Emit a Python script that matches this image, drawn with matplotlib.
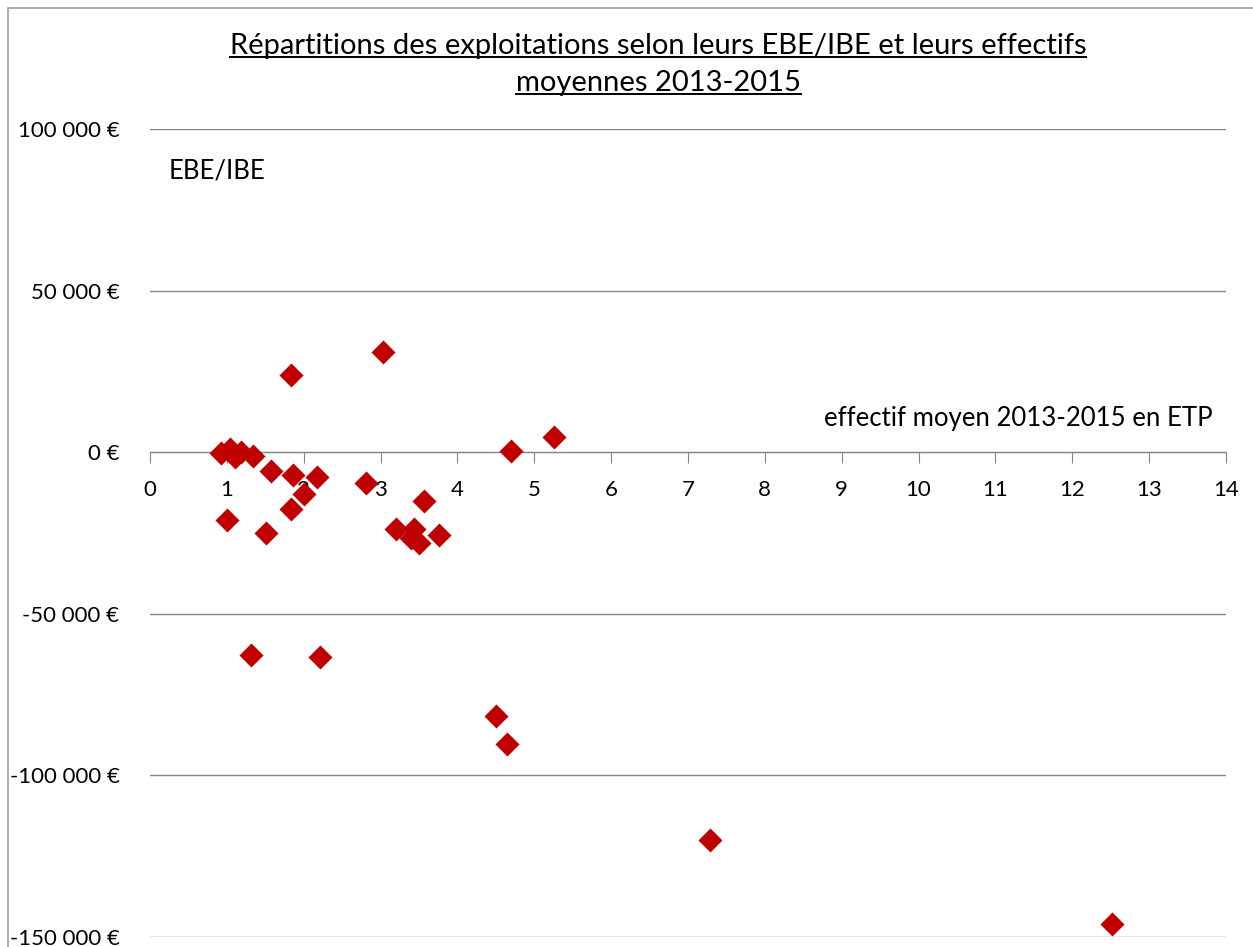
import matplotlib.pyplot as plt
from matplotlib.lines import Line2D
from matplotlib.patches import Rectangle

# effectif moyen (ETP) et EBE/IBE moyen 2013-2015
effectif = [0.92, 1.04, 1.11, 1.18, 1.34, 1.58, 1.865, 2.17, 2.81, 2.0,
            1.83, 1.006, 1.505, 3.565, 3.20, 3.435, 3.40, 3.50, 3.765, 1.84,
            3.035, 1.32, 2.21, 4.50, 4.65, 7.29, 12.52, 4.70, 5.26]
ebe = [-300, 900, -1500, 0, -1200, -5800, -7100, -7600, -9400, -13000,
       -17700, -21000, -25100, -15150, -23900, -23800, -26400, -28200, -25700, 23800,
       31000, -62600, -63400, -81600, -90200, -120000, -146000, 300, 4600]

yticks = [-150000, -100000, -50000, 0, 50000, 100000]
ytick_labels = ["-150 000 €", "-100 000 €", "-50 000 €", "0 €", "50 000 €", "100 000 €"]
xticks = list(range(0, 15))

plt.rcParams['font.family'] = ['Lato', 'DejaVu Sans']

fig = plt.figure(figsize=(12.53, 9.47), dpi=100)
ax = fig.add_axes([150 / 1253, 10 / 947, 1076 / 1253, 808 / 947])

ax.scatter(effectif, ebe, marker='D', s=150, color='#C00000', zorder=3, linewidths=0)

ax.set_xlim(0, 14)
ax.set_ylim(-150000, 100000)

for s in ['left', 'right', 'top']:
    ax.spines[s].set_visible(False)
ax.spines['bottom'].set_position(('data', 0))
ax.spines['bottom'].set_color('#868686')
ax.spines['bottom'].set_zorder(2)

ax.set_yticks(yticks)
ax.set_yticklabels(ytick_labels)
ax.set_xticks(xticks)
ax.set_xticklabels([str(t) for t in xticks])
ax.grid(True, axis='y', color='#868686', linewidth=1)
ax.tick_params(axis='x', direction='out', length=8, color='#868686', pad=12, labelsize=16)
ax.tick_params(axis='y', length=0, pad=22, labelsize=16)

ax.text(0.24, 87000, "EBE/IBE", fontsize=18.5, va='center', ha='left')
ax.text(13.82, 10500, "effectif moyen 2013-2015 en ETP", fontsize=18.5, va='center', ha='right')

# titre souligné
t1 = fig.text(658 / 1253, 1 - 46 / 947, "Répartitions des exploitations selon leurs EBE/IBE et leurs effectifs",
              fontsize=21, ha='center', va='center')
t2 = fig.text(658 / 1253, 1 - 83 / 947, "moyennes 2013-2015", fontsize=21, ha='center', va='center')

fig.patches.append(Rectangle((8 / 1253, -0.01), 1.2, 1 - 8 / 947 + 0.01, transform=fig.transFigure,
                             fill=False, edgecolor='#A0A0A0', linewidth=1.2))

fig.canvas.draw()
r = fig.canvas.get_renderer()
for t in (t1, t2):
    bb = t.get_window_extent(renderer=r).transformed(fig.transFigure.inverted())
    y = bb.y0 + 0.002
    fig.lines.append(Line2D([bb.x0, bb.x1], [y, y], transform=fig.transFigure, color='black', linewidth=1.4))

fig.savefig("out.png", dpi=100)
